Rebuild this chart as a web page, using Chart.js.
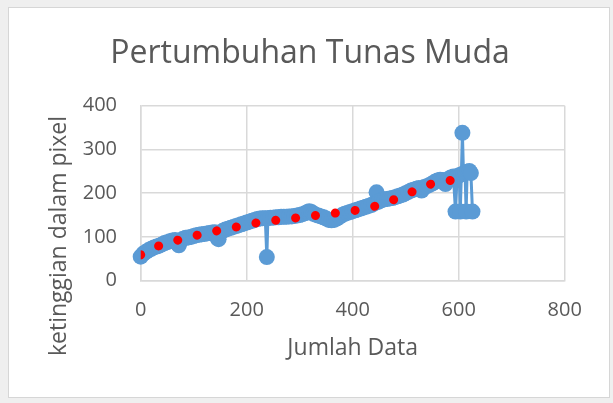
<!DOCTYPE html>
<html>
<head>
<meta charset="utf-8">
<script src="https://cdn.jsdelivr.net/npm/chart.js@4.4.1/dist/chart.umd.min.js"></script>
<style>
  html, body { margin: 0; padding: 0; background: #efefef; width: 613px; height: 403px; overflow: hidden; }
  #frame { position: absolute; left: 8px; top: 7px; width: 600px; height: 389px; background: #ffffff; border: 1.5px solid #d6d6d6; }
  #c { position: absolute; left: 0; top: 0; }
</style>
</head>
<body>
<div id="frame"></div>
<canvas id="c" width="613" height="403"></canvas>
<script>
const chartTitle = "Pertumbuhan Tunas Muda";
const xAxisTitle = "Jumlah Data";
const yAxisTitle = "ketinggian dalam pixel";
const xTicks = [0, 200, 400, 600, 800];
const yTicks = [0, 100, 200, 300, 400];

// Measured series (x = data index, y = height in pixels)
const dataX = [0,5,10,15,20,25,30,35,40,45,50,55,60,65,70,72,75,80,85,90,95,100,105,110,115,120,125,130,135,140,145,147,150,155,160,165,170,175,180,185,190,195,200,205,210,215,220,225,230,235,238,240,245,250,255,260,265,270,275,280,285,290,295,300,305,310,315,318,322,326,330,335,340,345,350,355,360,365,370,375,380,385,390,395,400,405,410,415,420,425,430,435,440,445,448,450,455,460,465,470,475,480,485,490,495,500,505,510,515,520,525,530,535,540,545,550,555,560,565,570,575,580,585,590,594,597,601,603,605,607,609,612,614,616,620,623,626];
const dataY = [55,62,66,70,73,76,78,80,83,86,88,90,92,93,84,81,90,96,98,99,100,102,104,105,106,107,108,109,110,111,97,95,110,114,117,119,121,123,125,127,129,131,133,135,137,139,141,142,143,143,54,143,144,144,145,145,146,146,146,147,147,148,149,150,152,154,157,159,157,153,151,149,147,145,142,139,138,139,142,146,150,153,155,157,159,161,163,165,167,169,171,173,176,202,180,182,184,186,187,188,189,191,193,195,197,200,203,206,208,210,212,206,214,216,219,222,226,229,231,230,221,232,236,238,158,239,241,158,243,338,245,247,158,249,251,246,158];

// Trendline
const trendX = [0,35,71,108,145,181,221,259,296,334,370,409,447,482,517,553,589,600];
const trendY = [59,80,93,104.5,114.3,123,132.6,138.7,144,149.5,155,161.6,172,187.4,205.7,223,230,232];

const series = dataX.map((x, i) => ({ x: x, y: dataY[i] }));
const trend = trendX.map((x, i) => ({ x: x, y: trendY[i] }));

const textColor = '#595959';
const gridColor = '#d9d9d9';
const fontFam = '"Open Sans", Lato, sans-serif';

const yTitlePlugin = {
  id: 'yTitleText',
  afterDraw(chart) {
    const ctx = chart.ctx;
    ctx.save();
    ctx.translate(59, 236);
    ctx.rotate(-Math.PI / 2);
    ctx.fillStyle = textColor;
    ctx.font = '23px ' + fontFam;
    ctx.textAlign = 'center';
    ctx.textBaseline = 'middle';
    ctx.fillText(yAxisTitle, 0, 0);
    ctx.restore();
  }
};

new Chart(document.getElementById('c'), {
  type: 'scatter',
  data: {
    datasets: [
      {
        label: 'Trendline',
        data: trend,
        showLine: true,
        borderColor: '#ff0000',
        borderWidth: 9,
        borderDash: [0.01, 20],
        borderCapStyle: 'round',
        cubicInterpolationMode: 'monotone',
        pointRadius: 0,
        pointHoverRadius: 0,
        clip: 0,
        order: 0
      },
      {
        label: 'Data',
        data: series,
        showLine: true,
        borderColor: '#5b9bd5',
        borderWidth: 3,
        pointRadius: 8,
        pointBorderWidth: 0,
        pointBackgroundColor: '#5b9bd5',
        pointHoverRadius: 8,
        clip: false,
        order: 1
      }
    ]
  },
  options: {
    responsive: false,
    animation: false,
    events: [],
    layout: { padding: { left: 7, right: 0, top: 0, bottom: 0 } },
    plugins: {
      legend: { display: false },
      tooltip: { enabled: false },
      title: {
        display: true,
        text: chartTitle,
        color: textColor,
        font: { family: fontFam, size: 32, weight: 'normal', lineHeight: 1.2 },
        padding: { top: 35, bottom: 32.3 }
      }
    },
    scales: {
      x: {
        type: 'linear',
        min: 0, max: 800,
        afterBuildTicks: (s) => { s.ticks = xTicks.map(v => ({ value: v })); },
        afterFit: (s) => { s.height = 403 - 280.7; },
        grid: { color: gridColor, lineWidth: 1.5, drawTicks: false },
        border: { color: gridColor, width: 1.5 },
        ticks: { color: textColor, font: { family: fontFam, size: 20 }, padding: 18, maxRotation: 0 },
        title: { display: true, text: xAxisTitle, color: textColor, font: { family: fontFam, size: 23 }, padding: { top: 0, bottom: 41 } }
      },
      y: {
        type: 'linear',
        min: 0, max: 400,
        afterBuildTicks: (s) => { s.ticks = yTicks.map(v => ({ value: v })); },
        afterFit: (s) => { s.width = 133.7; },
        grid: { color: gridColor, lineWidth: 1.5, drawTicks: false },
        border: { color: gridColor, width: 1.5 },
        ticks: { color: textColor, font: { family: fontFam, size: 20 }, padding: 23.7 },
        title: { display: false }
      },
      yRight: {
        type: 'linear',
        position: 'right',
        min: 0, max: 400,
        afterFit: (s) => { s.width = 48.3; },
        grid: { display: false, drawTicks: false },
        border: { display: false },
        ticks: { display: false }
      }
    }
  },
  plugins: [yTitlePlugin]
});
</script>
</body>
</html>
